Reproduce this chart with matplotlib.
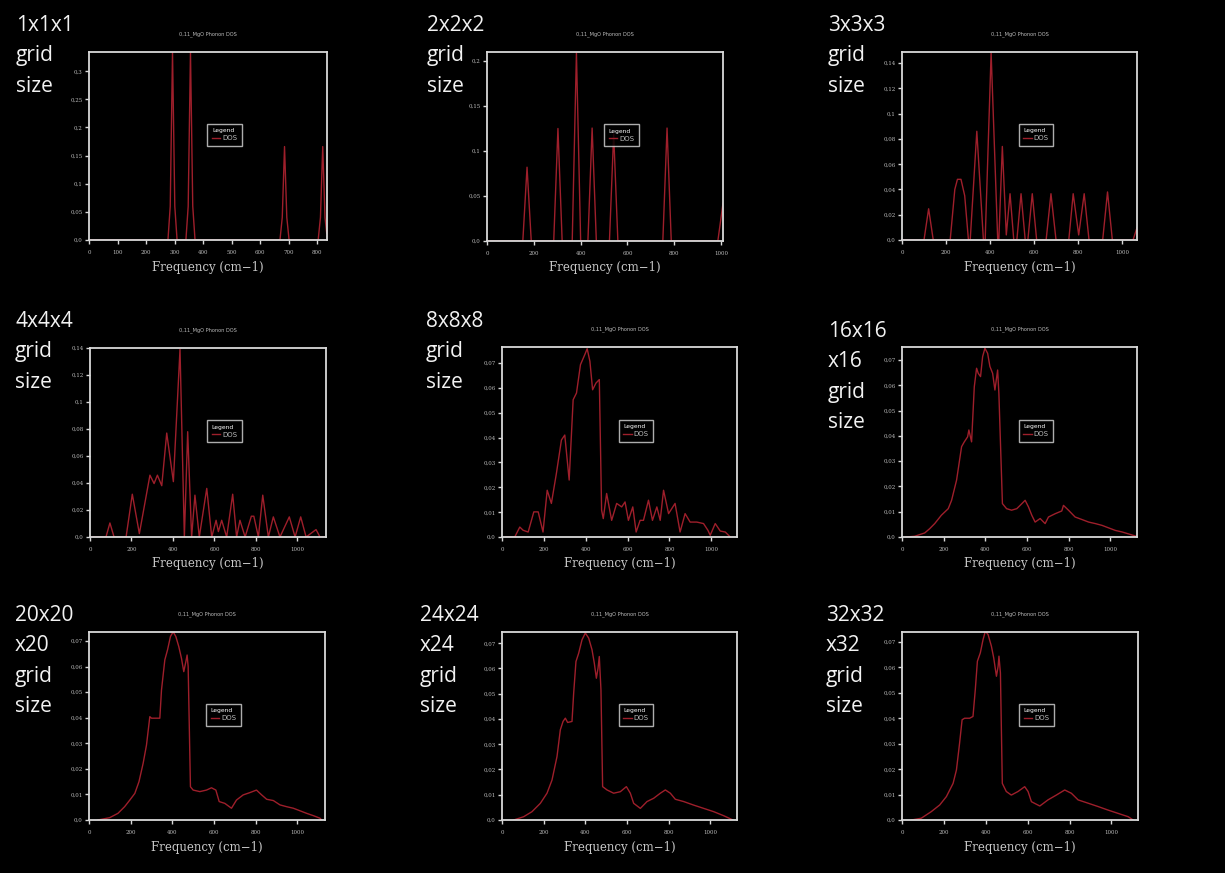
import matplotlib
matplotlib.use("Agg")
import matplotlib.pyplot as plt
from matplotlib.ticker import FuncFormatter, MultipleLocator

# ---------------- data ----------------
panel_labels = ["1x1x1\ngrid\nsize", "2x2x2\ngrid\nsize", "3x3x3\ngrid\nsize",
                "4x4x4\ngrid\nsize", "8x8x8\ngrid\nsize", "16x16\nx16\ngrid\nsize",
                "20x20\nx20\ngrid\nsize", "24x24\nx24\ngrid\nsize", "32x32\nx32\ngrid\nsize"]
title_text = "0,11_MgO Phonon DOS"
xlabel_text = "Frequency (cm\u22121)"
legend_title = "Legend"
series_name = "DOS"

freq_1 = [0, 277, 285, 293, 301, 309, 340, 348, 356, 364, 372, 670, 678, 686, 694, 702, 804, 812, 820, 828, 834]
dos_1 = [0, 0, 0.06, 0.334, 0.06, 0, 0, 0.06, 0.334, 0.06, 0, 0, 0.04, 0.166, 0.04, 0, 0, 0.04, 0.166, 0.04, 0.012]

freq_2 = [0, 153, 171, 189, 285, 303, 321, 364, 382, 400, 431, 449, 467, 523, 541, 559, 751, 769, 787, 986, 1008]
dos_2 = [0, 0, 0.082, 0, 0, 0.125, 0, 0, 0.209, 0, 0, 0.1255, 0, 0, 0.119, 0, 0, 0.1255, 0, 0, 0.042]

freq_3 = [0, 100, 121, 142, 219, 240, 252, 268, 285, 302, 310, 340, 370, 378, 405, 435,
          440, 456, 474, 491, 508, 522, 541, 560, 572, 592, 612, 655, 677, 700, 758, 778,
          803, 828, 850, 912, 934, 956, 1050, 1068]
dos_3 = [0, 0, 0.0247, 0, 0, 0.040, 0.048, 0.048, 0.035, 0, 0, 0.086, 0, 0, 0.148, 0,
         0, 0.074, 0.004, 0.0366, 0, 0, 0.0366, 0, 0, 0.0366, 0, 0, 0.0366, 0, 0, 0.0366,
         0.004, 0.0366, 0, 0, 0.038, 0, 0, 0.0097]

freq_4 = [0, 77, 96, 116, 174, 204, 238, 289, 309, 325, 346, 370, 402, 434, 455, 471, 490,
          506, 527, 563, 587, 608, 619, 635, 659, 688, 707, 723, 748, 778, 790, 812, 833,
          860, 884, 916, 961, 989, 1016, 1042, 1090, 1109, 1138]
dos_4 = [0, 0, 0.0104, 0, 0, 0.0317, 0.0025, 0.0458, 0.0396, 0.0458, 0.038, 0.077, 0.041, 0.139, 0, 0.078, 0,
         0.031, 0, 0.036, 0, 0.0124, 0.004, 0.0124, 0, 0.0317, 0, 0.0124, 0, 0.0154, 0.0154, 0, 0.031,
         0, 0.0149, 0, 0.0149, 0, 0.0149, 0, 0.0055, 0, 0]

freq_8 = [21, 61, 85, 101, 125, 152, 173, 196, 216, 236, 260, 284, 300, 321, 340, 356, 375, 396, 407,
          420, 433, 449, 465, 476, 484, 500, 524, 548, 572, 588, 604, 625, 641, 660, 676, 700,
          719, 740, 756, 772, 796, 827, 851, 875, 899, 931, 963, 984, 995, 1019, 1043, 1067, 1091]
dos_8 = [0, 0, 0.004, 0.0027, 0.002, 0.0101, 0.0101, 0.002, 0.0188, 0.0135, 0.0256, 0.039, 0.041, 0.0229,
         0.0552, 0.0579, 0.0693, 0.0734, 0.0757, 0.0707, 0.0592, 0.0619, 0.0633, 0.0108, 0.0074, 0.0175,
         0.0067, 0.0135, 0.0121, 0.0141, 0.0067, 0.0121, 0.002, 0.0067, 0.0067, 0.0148, 0.0067, 0.0121,
         0.0067, 0.0188, 0.0094, 0.0135, 0.002, 0.0094, 0.006, 0.006, 0.0054, 0.0027, 0.0007, 0.0054,
         0.0024, 0.002, 0]

freq_16 = [21, 61, 109, 133, 157, 189, 222, 238, 262, 286, 299, 315, 321, 334, 347, 358, 366, 377,
           387, 398, 411, 422, 435, 446, 459, 465, 482, 502, 526, 551, 567, 591, 607, 623, 639,
           663, 687, 703, 735, 767, 775, 799, 831, 864, 896, 928, 960, 992, 1024, 1056, 1096, 1124]
dos_16 = [0, 0.0003, 0.0016, 0.0033, 0.0053, 0.0086, 0.0112, 0.0145, 0.0225, 0.0357, 0.0376, 0.0396,
          0.0423, 0.0376, 0.0594, 0.0667, 0.0647, 0.0634, 0.0713, 0.0746, 0.0726, 0.0674, 0.0647,
          0.0581, 0.066, 0.0568, 0.0132, 0.0112, 0.0106, 0.0112, 0.0125, 0.0145, 0.0119, 0.0086,
          0.0059, 0.0073, 0.0053, 0.0079, 0.0092, 0.0103, 0.0125, 0.0106, 0.0079, 0.0069, 0.0059,
          0.0053, 0.0046, 0.0036, 0.0026, 0.002, 0.001, 0.0003]

freq_20 = [43, 99, 139, 171, 196, 220, 240, 260, 276, 292, 300, 316, 340, 348, 364, 377, 391, 404,
           417, 431, 444, 455, 465, 471, 476, 487, 500, 532, 564, 588, 609, 625, 652, 684, 708,
           740, 772, 804, 829, 853, 885, 917, 949, 981, 1013, 1045, 1077, 1109, 1117]
dos_20 = [0, 0.0009, 0.0026, 0.0052, 0.0078, 0.0104, 0.015, 0.0222, 0.0293, 0.0404, 0.0398, 0.0398,
          0.0398, 0.0508, 0.0626, 0.0665, 0.0717, 0.0736, 0.0717, 0.0678, 0.0632, 0.058, 0.0619,
          0.0645, 0.06, 0.013, 0.0117, 0.0111, 0.0117, 0.0126, 0.0117, 0.0072, 0.0065, 0.0046,
          0.0078, 0.0098, 0.0107, 0.0117, 0.0098, 0.0081, 0.0076, 0.0059, 0.0052, 0.0046, 0.0036,
          0.0026, 0.0017, 0.0007, 0]

freq_24 = [56, 104, 144, 184, 216, 240, 264, 280, 293, 304, 315, 336, 344, 355, 368, 384, 400, 416,
           432, 443, 453, 461, 467, 475, 483, 504, 536, 568, 597, 616, 632, 664, 696, 728, 760,
           784, 808, 832, 872, 920, 968, 1016, 1064, 1109]
dos_24 = [0, 0.0013, 0.0033, 0.0066, 0.0106, 0.0158, 0.0251, 0.0357, 0.039, 0.0403, 0.0386, 0.039,
          0.0502, 0.0627, 0.066, 0.0713, 0.074, 0.072, 0.0674, 0.0621, 0.0561, 0.0601, 0.0647,
          0.0515, 0.0132, 0.0119, 0.0106, 0.0112, 0.0132, 0.0106, 0.0066, 0.0046, 0.0073, 0.0086,
          0.0106, 0.0119, 0.0106, 0.0082, 0.0073, 0.0059, 0.0046, 0.0033, 0.0017, 0]

freq_32 = [45, 92, 140, 180, 212, 244, 260, 275, 287, 299, 323, 339, 350, 360, 374, 387, 398, 411,
           427, 438, 451, 459, 463, 470, 479, 498, 522, 554, 586, 602, 618, 658, 697, 737, 777,
           809, 841, 889, 936, 984, 1032, 1080, 1104]
dos_32 = [0, 0.0007, 0.0033, 0.0059, 0.0092, 0.0144, 0.0197, 0.0302, 0.0394, 0.04, 0.04, 0.0407,
          0.0512, 0.0624, 0.0657, 0.0709, 0.0742, 0.0729, 0.0683, 0.0637, 0.0565, 0.0604, 0.0644,
          0.0578, 0.0144, 0.0112, 0.0098, 0.0112, 0.0131, 0.0112, 0.0072, 0.0055, 0.0079, 0.0098,
          0.0118, 0.0105, 0.0079, 0.0066, 0.0053, 0.0039, 0.0026, 0.0013, 0]

freqs = [freq_1, freq_2, freq_3, freq_4, freq_8, freq_16, freq_20, freq_24, freq_32]
dos = [dos_1, dos_2, dos_3, dos_4, dos_8, dos_16, dos_20, dos_24, dos_32]
x_max = [835, 1008, 1068, 1138, 1123, 1128, 1133, 1128, 1127]
y_max = [0.334, 0.21, 0.1487, 0.14, 0.0764, 0.0751, 0.0735, 0.0744, 0.0739]
x_step = [100, 200, 200, 200, 200, 200, 200, 200, 200]
y_step = [0.05, 0.05, 0.02, 0.02, 0.01, 0.01, 0.01, 0.01, 0.01]

# ---------------- layout (pixels) ----------------
W, H = 1225, 873
axes_px = [(89, 52, 327, 240), (487, 52, 723, 241), (902, 52, 1137, 240),
           (90, 348, 326, 537), (502, 347, 737, 537), (902, 347, 1137, 537),
           (89, 632, 325, 820), (502, 632, 737, 820), (902, 632, 1138, 820)]
label_px = [(16, 31), (427, 31), (828, 31),
            (15, 327), (426, 327), (828, 337),
            (15, 621), (420, 621), (826, 621)]

fig = plt.figure(figsize=(W / 100, H / 100), dpi=100, facecolor="black")

line_color = "#9e1f2b"
frame_color = "#d9d9d9"
text_color = "#bdbdbd"


def fmt(v, pos):
    s = f"{v:.2f}".rstrip("0")
    if s.endswith("."):
        s += "0"
    return s.replace(".", ",")


for i in range(9):
    l, t, r, b = axes_px[i]
    ax = fig.add_axes([l / W, 1 - b / H, (r - l) / W, (b - t) / H])
    ax.set_facecolor("black")
    ax.plot(freqs[i], dos[i], color=line_color, lw=1.0, label=series_name)
    ax.set_xlim(0, x_max[i])
    ax.set_ylim(0, y_max[i])
    ax.xaxis.set_major_locator(MultipleLocator(x_step[i]))
    ax.yaxis.set_major_locator(MultipleLocator(y_step[i]))
    ax.yaxis.set_major_formatter(FuncFormatter(fmt))
    for sp in ax.spines.values():
        sp.set_color(frame_color)
        sp.set_linewidth(1.3)
    ax.tick_params(axis="both", direction="out", length=3, width=1.0, color=frame_color,
                   labelcolor=text_color, labelsize=4)
    ax.tick_params(axis="y", pad=1.5)
    ax.tick_params(axis="x", pad=4)
    for lab in ax.get_xticklabels() + ax.get_yticklabels():
        lab.set_family("DejaVu Serif")
    ph = b - t
    ax.text(0.5, 1 + 18 / ph, title_text, transform=ax.transAxes, ha="center", va="center",
            fontsize=3.6, color=text_color, family="DejaVu Sans")
    ax.set_xlabel(xlabel_text, family="DejaVu Serif", fontsize=8.5, color="#c8c8c8", va="center")
    ax.xaxis.set_label_coords(0.5, -27 / ph)
    leg = ax.legend(loc="center", bbox_to_anchor=(0.57, 0.56), title=legend_title,
                    fontsize=5.0, title_fontsize=4.3, frameon=True, fancybox=False,
                    handlelength=1.2, handletextpad=0.3, borderpad=0.65, labelspacing=0.3,
                    borderaxespad=0)
    leg.get_frame().set_facecolor("black")
    leg.get_frame().set_edgecolor(frame_color)
    leg.get_frame().set_linewidth(1.0)
    leg._legend_box.align = "left"
    leg.get_title().set_color("white")
    for txt in leg.get_texts():
        txt.set_color(text_color)

    lx, ly = label_px[i]
    lines = panel_labels[i].split("\n")
    for k, line in enumerate(lines):
        fig.text(lx / W, 1 - (ly + k * 30.3) / H, line, ha="left", va="baseline",
                 fontsize=15, color="#f2f2f2", family="Open Sans")

fig.savefig("out.png", dpi=100, facecolor="black")
